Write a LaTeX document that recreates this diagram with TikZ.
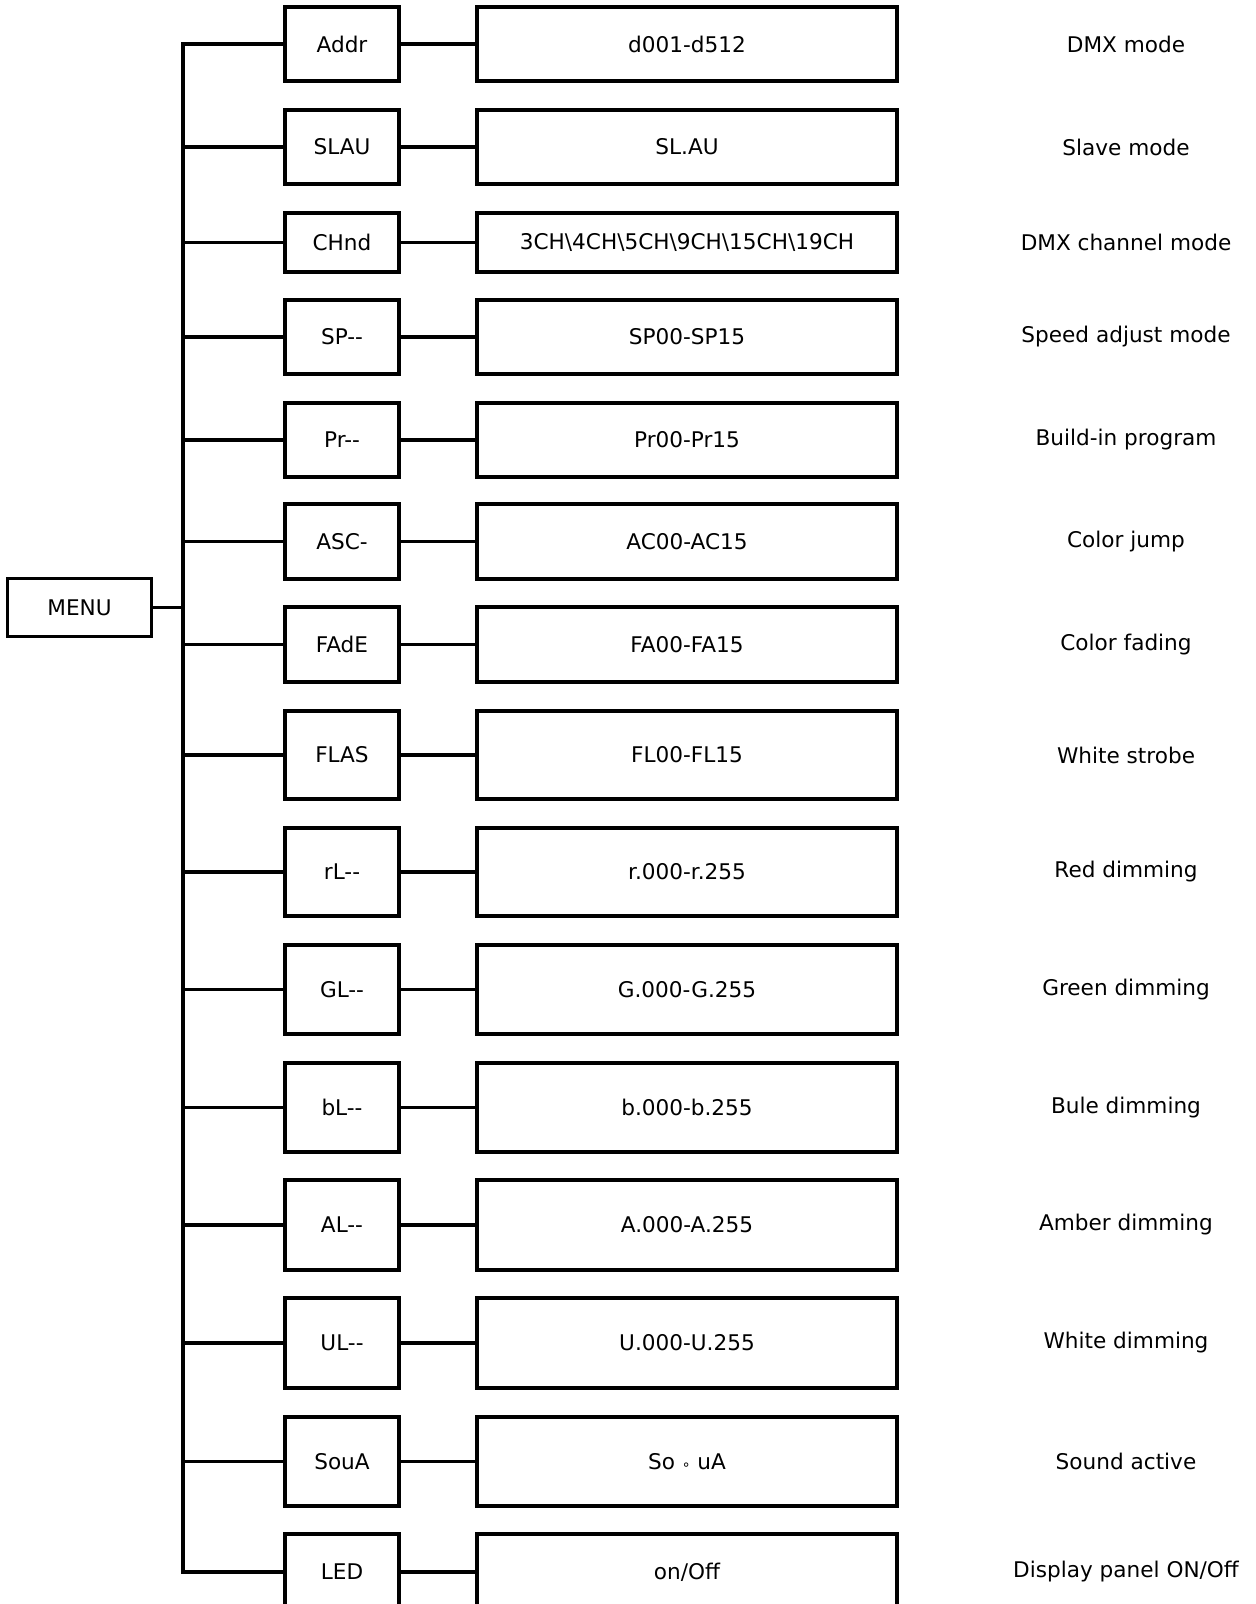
\documentclass[tikz,border=0pt]{standalone}
\usepackage{fontspec}
\setmainfont{DejaVu Sans}
\usetikzlibrary{positioning}

\begin{document}
\begin{tikzpicture}[
    x=0.5pt, y=-0.5pt, % one unit = one pixel of the sheet
    line width=1.6pt,
    box/.style={draw, line width=1.6pt, inner sep=0pt, font=\fontsize{10.8}{13}\selectfont}, % framed menu boxes
    keybox/.style={box, minimum width=57pt}, % short menu codes
    valbox/.style={box, minimum width=210pt}, % value ranges
    note/.style={font=\fontsize{10.8}{13}\selectfont} % explanation at the right
]

    % Sheet size
    \useasboundingbox (0,0) rectangle (1256,1604);

    % Root of the menu
    \node[box, minimum width=72pt, minimum height=29pt] (menu) at (79.5,607.5) {MENU};

    % One row per menu entry: code / value / meaning / top / bottom
    \foreach \k/\v/\d/\t/\b [count=\i] in {
        Addr/d001-d512/DMX mode/7/81,
        SLAU/SL.AU/Slave mode/110/184,
        CHnd/{3CH\textbackslash 4CH\textbackslash 5CH\textbackslash 9CH\textbackslash 15CH\textbackslash 19CH}/DMX channel mode/213/272,
        SP-{}-/SP00-SP15/Speed adjust mode/300/374,
        Pr-{}-/Pr00-Pr15/Build-in program/403/477,
        ASC-/AC00-AC15/Color jump/504/579,
        FAdE/FA00-FA15/Color fading/607/682,
        FLAS/FL00-FL15/White strobe/711/799,
        rL-{}-/r.000-r.255/Red dimming/828/916,
        GL-{}-/G.000-G.255/Green dimming/945/1034,
        bL-{}-/b.000-b.255/Bule dimming/1063/1152,
        AL-{}-/A.000-A.255/Amber dimming/1180/1270,
        UL-{}-/U.000-U.255/White dimming/1298/1388,
        SouA/{So {\fontsize{7}{7}\selectfont ∘} uA}/Sound active/1417/1506,
        LED/{on/Off}/{Display panel ON/Off}/1534/1610%
    }{
        \node[keybox, minimum height={(\b-\t)*0.5pt}] (key\i) at (342,{(\t+\b)/2}) {\k};
        \node[valbox, minimum height={(\b-\t)*0.5pt}] (val\i) at (687,{(\t+\b)/2}) {\v};
        \node[note] (note\i) at (1126,{(\t+\b)/2}) {\d};
        \coordinate (tap\i) at (183,{(\t+\b)/2});
        \draw (key\i) -- (val\i);
    }

    % Trunk of the tree
    \draw (key1.west) -- (tap1) -- (tap15) -- (key15.west);
    \foreach \i in {2,...,14}
        \draw (tap\i) -- (key\i.west);
    \draw (menu) -- (menu -| tap1);

\end{tikzpicture}
\end{document}
